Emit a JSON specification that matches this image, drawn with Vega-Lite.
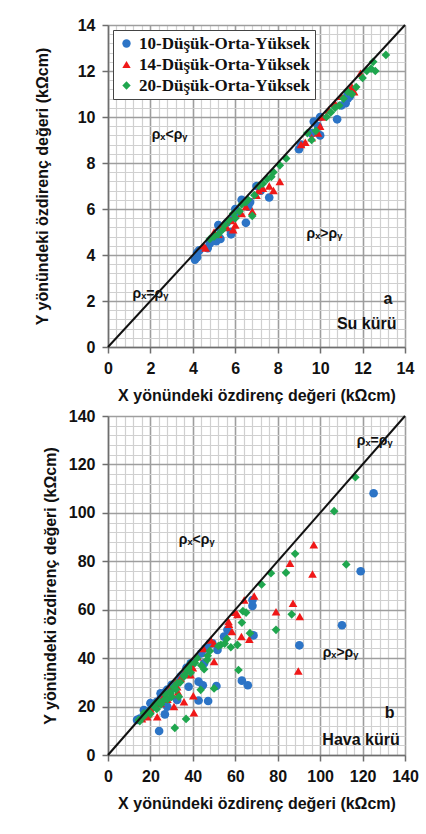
{
"$schema": "https://vega.github.io/schema/vega-lite/v6.json",
"background": "white",
"padding": {"left": 34, "top": 17, "right": 5, "bottom": 5},
"spacing": 5,
"config": {
  "view": {"stroke": null},
  "axis": {"labelFont": "Liberation Sans", "labelFontWeight": "bold", "labelFontSize": 16, "labelColor": "#111", "titleFont": "Liberation Sans", "titleFontWeight": "bold", "titleFontSize": 16, "titleColor": "#111", "domainColor": "#6e6e6e", "domainWidth": 1.5, "tickColor": "#6e6e6e", "tickWidth": 1.5, "tickSize": 6, "labelPadding": 7, "labelOverlap": false, "labelFlush": false, "format": "d"},
  "legend": {"labelFont": "Liberation Serif", "labelFontWeight": "bold", "labelFontSize": 17, "labelColor": "#111", "strokeColor": "#444", "fillColor": "white", "padding": 5, "rowPadding": 3, "symbolSize": 70, "symbolStrokeWidth": 0, "labelLimit": 300}
},
"datasets": {
  "ptsA": [
    {"x":4.1,"y":3.8,"s":"10-Düşük-Orta-Yüksek"},{"x":4.2,"y":3.9,"s":"10-Düşük-Orta-Yüksek"},{"x":4.2,"y":4.1,"s":"10-Düşük-Orta-Yüksek"},{"x":4.3,"y":4.2,"s":"10-Düşük-Orta-Yüksek"},{"x":4.7,"y":4.3,"s":"10-Düşük-Orta-Yüksek"},{"x":4.8,"y":4.5,"s":"10-Düşük-Orta-Yüksek"},{"x":5.1,"y":4.6,"s":"10-Düşük-Orta-Yüksek"},{"x":5.2,"y":4.8,"s":"10-Düşük-Orta-Yüksek"},{"x":5.3,"y":4.7,"s":"10-Düşük-Orta-Yüksek"},{"x":5.2,"y":5.3,"s":"10-Düşük-Orta-Yüksek"},{"x":5.3,"y":5.1,"s":"10-Düşük-Orta-Yüksek"},{"x":5.6,"y":5.4,"s":"10-Düşük-Orta-Yüksek"},{"x":5.8,"y":5.0,"s":"10-Düşük-Orta-Yüksek"},{"x":5.8,"y":4.9,"s":"10-Düşük-Orta-Yüksek"},{"x":5.9,"y":5.6,"s":"10-Düşük-Orta-Yüksek"},{"x":6.0,"y":6.0,"s":"10-Düşük-Orta-Yüksek"},{"x":6.1,"y":5.8,"s":"10-Düşük-Orta-Yüksek"},{"x":6.3,"y":6.4,"s":"10-Düşük-Orta-Yüksek"},{"x":6.5,"y":5.4,"s":"10-Düşük-Orta-Yüksek"},{"x":6.6,"y":6.1,"s":"10-Düşük-Orta-Yüksek"},{"x":6.7,"y":6.3,"s":"10-Düşük-Orta-Yüksek"},{"x":7.0,"y":7.0,"s":"10-Düşük-Orta-Yüksek"},{"x":7.6,"y":6.5,"s":"10-Düşük-Orta-Yüksek"},{"x":7.2,"y":6.8,"s":"10-Düşük-Orta-Yüksek"},{"x":9.0,"y":8.6,"s":"10-Düşük-Orta-Yüksek"},{"x":9.1,"y":8.8,"s":"10-Düşük-Orta-Yüksek"},{"x":9.6,"y":9.3,"s":"10-Düşük-Orta-Yüksek"},{"x":9.7,"y":9.8,"s":"10-Düşük-Orta-Yüksek"},{"x":9.9,"y":9.6,"s":"10-Düşük-Orta-Yüksek"},{"x":10.0,"y":9.2,"s":"10-Düşük-Orta-Yüksek"},{"x":10.8,"y":9.9,"s":"10-Düşük-Orta-Yüksek"},{"x":10.0,"y":10.0,"s":"10-Düşük-Orta-Yüksek"},{"x":11.2,"y":10.6,"s":"10-Düşük-Orta-Yüksek"},{"x":11.3,"y":10.8,"s":"10-Düşük-Orta-Yüksek"},{"x":11.4,"y":10.9,"s":"10-Düşük-Orta-Yüksek"},{"x":11.3,"y":11.0,"s":"10-Düşük-Orta-Yüksek"},{"x":11.0,"y":10.5,"s":"10-Düşük-Orta-Yüksek"},
    {"x":4.5,"y":4.4,"s":"14-Düşük-Orta-Yüksek"},{"x":4.6,"y":4.3,"s":"14-Düşük-Orta-Yüksek"},{"x":5.0,"y":5.0,"s":"14-Düşük-Orta-Yüksek"},{"x":5.2,"y":4.9,"s":"14-Düşük-Orta-Yüksek"},{"x":5.4,"y":5.3,"s":"14-Düşük-Orta-Yüksek"},{"x":5.6,"y":5.2,"s":"14-Düşük-Orta-Yüksek"},{"x":5.8,"y":5.5,"s":"14-Düşük-Orta-Yüksek"},{"x":5.9,"y":5.1,"s":"14-Düşük-Orta-Yüksek"},{"x":6.0,"y":5.3,"s":"14-Düşük-Orta-Yüksek"},{"x":6.3,"y":5.8,"s":"14-Düşük-Orta-Yüksek"},{"x":6.5,"y":6.1,"s":"14-Düşük-Orta-Yüksek"},{"x":6.8,"y":5.9,"s":"14-Düşük-Orta-Yüksek"},{"x":7.0,"y":6.6,"s":"14-Düşük-Orta-Yüksek"},{"x":7.1,"y":6.8,"s":"14-Düşük-Orta-Yüksek"},{"x":7.3,"y":6.9,"s":"14-Düşük-Orta-Yüksek"},{"x":7.6,"y":7.0,"s":"14-Düşük-Orta-Yüksek"},{"x":7.8,"y":6.8,"s":"14-Düşük-Orta-Yüksek"},{"x":8.1,"y":7.2,"s":"14-Düşük-Orta-Yüksek"},{"x":9.1,"y":8.8,"s":"14-Düşük-Orta-Yüksek"},{"x":9.3,"y":8.9,"s":"14-Düşük-Orta-Yüksek"},{"x":9.6,"y":9.1,"s":"14-Düşük-Orta-Yüksek"},{"x":9.9,"y":9.3,"s":"14-Düşük-Orta-Yüksek"},{"x":10.0,"y":9.6,"s":"14-Düşük-Orta-Yüksek"},{"x":10.1,"y":10.0,"s":"14-Düşük-Orta-Yüksek"},{"x":10.4,"y":10.3,"s":"14-Düşük-Orta-Yüksek"},{"x":10.7,"y":10.6,"s":"14-Düşük-Orta-Yüksek"},{"x":11.0,"y":10.9,"s":"14-Düşük-Orta-Yüksek"},{"x":11.4,"y":11.2,"s":"14-Düşük-Orta-Yüksek"},{"x":11.6,"y":11.1,"s":"14-Düşük-Orta-Yüksek"},{"x":11.9,"y":11.9,"s":"14-Düşük-Orta-Yüksek"},{"x":11.5,"y":11.3,"s":"14-Düşük-Orta-Yüksek"},
    {"x":4.8,"y":4.7,"s":"20-Düşük-Orta-Yüksek"},{"x":5.0,"y":4.8,"s":"20-Düşük-Orta-Yüksek"},{"x":5.2,"y":4.9,"s":"20-Düşük-Orta-Yüksek"},{"x":5.4,"y":5.1,"s":"20-Düşük-Orta-Yüksek"},{"x":5.5,"y":5.3,"s":"20-Düşük-Orta-Yüksek"},{"x":5.7,"y":5.5,"s":"20-Düşük-Orta-Yüksek"},{"x":5.9,"y":5.8,"s":"20-Düşük-Orta-Yüksek"},{"x":6.0,"y":5.6,"s":"20-Düşük-Orta-Yüksek"},{"x":6.2,"y":5.9,"s":"20-Düşük-Orta-Yüksek"},{"x":6.3,"y":6.2,"s":"20-Düşük-Orta-Yüksek"},{"x":6.5,"y":6.3,"s":"20-Düşük-Orta-Yüksek"},{"x":6.6,"y":6.4,"s":"20-Düşük-Orta-Yüksek"},{"x":6.8,"y":5.7,"s":"20-Düşük-Orta-Yüksek"},{"x":6.9,"y":6.6,"s":"20-Düşük-Orta-Yüksek"},{"x":7.1,"y":7.0,"s":"20-Düşük-Orta-Yüksek"},{"x":7.3,"y":7.1,"s":"20-Düşük-Orta-Yüksek"},{"x":7.5,"y":7.3,"s":"20-Düşük-Orta-Yüksek"},{"x":7.7,"y":7.4,"s":"20-Düşük-Orta-Yüksek"},{"x":7.8,"y":7.6,"s":"20-Düşük-Orta-Yüksek"},{"x":8.1,"y":7.9,"s":"20-Düşük-Orta-Yüksek"},{"x":8.4,"y":8.2,"s":"20-Düşük-Orta-Yüksek"},{"x":9.4,"y":9.3,"s":"20-Düşük-Orta-Yüksek"},{"x":9.6,"y":9.0,"s":"20-Düşük-Orta-Yüksek"},{"x":9.8,"y":9.4,"s":"20-Düşük-Orta-Yüksek"},{"x":10.3,"y":10.0,"s":"20-Düşük-Orta-Yüksek"},{"x":10.5,"y":10.2,"s":"20-Düşük-Orta-Yüksek"},{"x":10.7,"y":10.4,"s":"20-Düşük-Orta-Yüksek"},{"x":10.9,"y":10.5,"s":"20-Düşük-Orta-Yüksek"},{"x":11.1,"y":10.8,"s":"20-Düşük-Orta-Yüksek"},{"x":11.3,"y":11.1,"s":"20-Düşük-Orta-Yüksek"},{"x":11.5,"y":11.0,"s":"20-Düşük-Orta-Yüksek"},{"x":11.7,"y":11.3,"s":"20-Düşük-Orta-Yüksek"},{"x":12.0,"y":11.7,"s":"20-Düşük-Orta-Yüksek"},{"x":12.2,"y":12.0,"s":"20-Düşük-Orta-Yüksek"},{"x":12.4,"y":12.1,"s":"20-Düşük-Orta-Yüksek"},{"x":12.5,"y":12.4,"s":"20-Düşük-Orta-Yüksek"},{"x":12.6,"y":12.0,"s":"20-Düşük-Orta-Yüksek"},{"x":13.1,"y":12.7,"s":"20-Düşük-Orta-Yüksek"}
  ],
  "ptsB": [
    {"x":125.2,"y":108.1,"s":"10-Düşük-Orta-Yüksek"},{"x":119.1,"y":75.9,"s":"10-Düşük-Orta-Yüksek"},{"x":110.3,"y":53.6,"s":"10-Düşük-Orta-Yüksek"},{"x":90.2,"y":45.3,"s":"10-Düşük-Orta-Yüksek"},{"x":68.1,"y":61.6,"s":"10-Düşük-Orta-Yüksek"},{"x":68.1,"y":64,"s":"10-Düşük-Orta-Yüksek"},{"x":68.6,"y":49.4,"s":"10-Düşük-Orta-Yüksek"},{"x":63.1,"y":30.7,"s":"10-Düşük-Orta-Yüksek"},{"x":65.9,"y":28.8,"s":"10-Düşük-Orta-Yüksek"},{"x":51.1,"y":28.5,"s":"10-Düşük-Orta-Yüksek"},{"x":42.7,"y":22.5,"s":"10-Düşük-Orta-Yüksek"},{"x":47.2,"y":22.3,"s":"10-Düşük-Orta-Yüksek"},{"x":42.7,"y":30.3,"s":"10-Düşük-Orta-Yüksek"},{"x":44.7,"y":28.8,"s":"10-Düşük-Orta-Yüksek"},{"x":24.1,"y":9.9,"s":"10-Düşük-Orta-Yüksek"},{"x":26.8,"y":16.8,"s":"10-Düşük-Orta-Yüksek"},{"x":56.3,"y":51.7,"s":"10-Düşük-Orta-Yüksek"},{"x":54.7,"y":48.9,"s":"10-Düşük-Orta-Yüksek"},{"x":51.6,"y":43.4,"s":"10-Düşük-Orta-Yüksek"},{"x":49.2,"y":46.1,"s":"10-Düşük-Orta-Yüksek"},{"x":45.3,"y":37.9,"s":"10-Düşük-Orta-Yüksek"},{"x":38.0,"y":28.2,"s":"10-Düşük-Orta-Yüksek"},{"x":32.6,"y":22.7,"s":"10-Düşük-Orta-Yüksek"},{"x":29.5,"y":26.9,"s":"10-Düşük-Orta-Yüksek"},{"x":20.0,"y":21.4,"s":"10-Düşük-Orta-Yüksek"},{"x":16.9,"y":18.6,"s":"10-Düşük-Orta-Yüksek"},{"x":13.7,"y":14.5,"s":"10-Düşük-Orta-Yüksek"},{"x":24.8,"y":25.5,"s":"10-Düşük-Orta-Yüksek"},{"x":27.9,"y":20.0,"s":"10-Düşük-Orta-Yüksek"},{"x":34.2,"y":32.4,"s":"10-Düşük-Orta-Yüksek"},{"x":39.0,"y":37.9,"s":"10-Düşük-Orta-Yüksek"},{"x":15,"y":15,"s":"10-Düşük-Orta-Yüksek"},{"x":17,"y":16,"s":"10-Düşük-Orta-Yüksek"},{"x":18,"y":17.5,"s":"10-Düşük-Orta-Yüksek"},{"x":19,"y":18,"s":"10-Düşük-Orta-Yüksek"},{"x":21,"y":20,"s":"10-Düşük-Orta-Yüksek"},{"x":22,"y":21,"s":"10-Düşük-Orta-Yüksek"},{"x":23,"y":22,"s":"10-Düşük-Orta-Yüksek"},{"x":25,"y":24,"s":"10-Düşük-Orta-Yüksek"},{"x":27,"y":26,"s":"10-Düşük-Orta-Yüksek"},{"x":28,"y":27,"s":"10-Düşük-Orta-Yüksek"},{"x":30,"y":29,"s":"10-Düşük-Orta-Yüksek"},{"x":31,"y":28,"s":"10-Düşük-Orta-Yüksek"},{"x":33,"y":30,"s":"10-Düşük-Orta-Yüksek"},{"x":35,"y":33,"s":"10-Düşük-Orta-Yüksek"},{"x":37,"y":36,"s":"10-Düşük-Orta-Yüksek"},{"x":40,"y":38,"s":"10-Düşük-Orta-Yüksek"},{"x":44,"y":42,"s":"10-Düşük-Orta-Yüksek"},{"x":46,"y":44,"s":"10-Düşük-Orta-Yüksek"},{"x":48,"y":46,"s":"10-Düşük-Orta-Yüksek"},
    {"x":97.0,"y":86.8,"s":"14-Düşük-Orta-Yüksek"},{"x":96.4,"y":74.7,"s":"14-Düşük-Orta-Yüksek"},{"x":85.8,"y":79.2,"s":"14-Düşük-Orta-Yüksek"},{"x":87.2,"y":62.7,"s":"14-Düşük-Orta-Yüksek"},{"x":90.4,"y":57.2,"s":"14-Düşük-Orta-Yüksek"},{"x":79.2,"y":59.2,"s":"14-Düşük-Orta-Yüksek"},{"x":89.7,"y":34.7,"s":"14-Düşük-Orta-Yüksek"},{"x":64.2,"y":64.0,"s":"14-Düşük-Orta-Yüksek"},{"x":68.9,"y":65.7,"s":"14-Düşük-Orta-Yüksek"},{"x":62.9,"y":48.9,"s":"14-Düşük-Orta-Yüksek"},{"x":66.6,"y":47.8,"s":"14-Düşük-Orta-Yüksek"},{"x":56.8,"y":55.1,"s":"14-Düşük-Orta-Yüksek"},{"x":58.4,"y":51.0,"s":"14-Düşük-Orta-Yüksek"},{"x":50.0,"y":38.6,"s":"14-Düşük-Orta-Yüksek"},{"x":42.1,"y":40.6,"s":"14-Düşük-Orta-Yüksek"},{"x":40.2,"y":24.5,"s":"14-Düşük-Orta-Yüksek"},{"x":40.5,"y":17.5,"s":"14-Düşük-Orta-Yüksek"},{"x":35.8,"y":22.0,"s":"14-Düşük-Orta-Yüksek"},{"x":31.1,"y":20.0,"s":"14-Düşük-Orta-Yüksek"},{"x":38.9,"y":33.1,"s":"14-Düşük-Orta-Yüksek"},{"x":34.2,"y":31.7,"s":"14-Düşük-Orta-Yüksek"},{"x":23.2,"y":15.8,"s":"14-Düşük-Orta-Yüksek"},{"x":18.5,"y":15.8,"s":"14-Düşük-Orta-Yüksek"},{"x":27.9,"y":24.1,"s":"14-Düşük-Orta-Yüksek"},{"x":24.8,"y":21.3,"s":"14-Düşük-Orta-Yüksek"},{"x":32.6,"y":28.2,"s":"14-Düşük-Orta-Yüksek"},{"x":48.4,"y":47.5,"s":"14-Düşük-Orta-Yüksek"},{"x":16,"y":15,"s":"14-Düşük-Orta-Yüksek"},{"x":19,"y":17,"s":"14-Düşük-Orta-Yüksek"},{"x":20,"y":19,"s":"14-Düşük-Orta-Yüksek"},{"x":22,"y":20,"s":"14-Düşük-Orta-Yüksek"},{"x":24,"y":22,"s":"14-Düşük-Orta-Yüksek"},{"x":26,"y":24,"s":"14-Düşük-Orta-Yüksek"},{"x":28,"y":23,"s":"14-Düşük-Orta-Yüksek"},{"x":29,"y":27,"s":"14-Düşük-Orta-Yüksek"},{"x":30,"y":25,"s":"14-Düşük-Orta-Yüksek"},{"x":32,"y":30,"s":"14-Düşük-Orta-Yüksek"},{"x":33,"y":26,"s":"14-Düşük-Orta-Yüksek"},{"x":36,"y":34,"s":"14-Düşük-Orta-Yüksek"},{"x":38,"y":35,"s":"14-Düşük-Orta-Yüksek"},{"x":40,"y":36,"s":"14-Düşük-Orta-Yüksek"},{"x":45,"y":44,"s":"14-Düşük-Orta-Yüksek"},{"x":50,"y":46,"s":"14-Düşük-Orta-Yüksek"},{"x":57,"y":54,"s":"14-Düşük-Orta-Yüksek"},{"x":60,"y":59,"s":"14-Düşük-Orta-Yüksek"},{"x":61,"y":58,"s":"14-Düşük-Orta-Yüksek"},
    {"x":116.6,"y":114.7,"s":"20-Düşük-Orta-Yüksek"},{"x":106.6,"y":100.7,"s":"20-Düşük-Orta-Yüksek"},{"x":112.3,"y":78.7,"s":"20-Düşük-Orta-Yüksek"},{"x":88.2,"y":83.1,"s":"20-Düşük-Orta-Yüksek"},{"x":83.9,"y":75.3,"s":"20-Düşük-Orta-Yüksek"},{"x":76.8,"y":75.1,"s":"20-Düşük-Orta-Yüksek"},{"x":72.4,"y":70.4,"s":"20-Düşük-Orta-Yüksek"},{"x":63.6,"y":59.4,"s":"20-Düşük-Orta-Yüksek"},{"x":65.1,"y":58.8,"s":"20-Düşük-Orta-Yüksek"},{"x":63.1,"y":54.7,"s":"20-Düşük-Orta-Yüksek"},{"x":86.6,"y":58.1,"s":"20-Düşük-Orta-Yüksek"},{"x":79.2,"y":51.7,"s":"20-Düşük-Orta-Yüksek"},{"x":66.9,"y":50.3,"s":"20-Düşük-Orta-Yüksek"},{"x":61.5,"y":35.1,"s":"20-Düşük-Orta-Yüksek"},{"x":50.0,"y":27.5,"s":"20-Düşük-Orta-Yüksek"},{"x":43.7,"y":26.9,"s":"20-Düşük-Orta-Yüksek"},{"x":36.8,"y":14.9,"s":"20-Düşük-Orta-Yüksek"},{"x":31.5,"y":11.2,"s":"20-Düşük-Orta-Yüksek"},{"x":45.3,"y":35.4,"s":"20-Düşük-Orta-Yüksek"},{"x":46.8,"y":39.3,"s":"20-Düşük-Orta-Yüksek"},{"x":53.2,"y":45.5,"s":"20-Düşük-Orta-Yüksek"},{"x":57.9,"y":44.5,"s":"20-Düşük-Orta-Yüksek"},{"x":61.0,"y":45.5,"s":"20-Düşük-Orta-Yüksek"},{"x":39.0,"y":37.9,"s":"20-Düşük-Orta-Yüksek"},{"x":37.4,"y":35.1,"s":"20-Düşük-Orta-Yüksek"},{"x":32.6,"y":29.6,"s":"20-Düşük-Orta-Yüksek"},{"x":29.5,"y":25.5,"s":"20-Düşük-Orta-Yüksek"},{"x":26.3,"y":22.7,"s":"20-Düşük-Orta-Yüksek"},{"x":21.6,"y":20.0,"s":"20-Düşük-Orta-Yüksek"},{"x":16.9,"y":17.2,"s":"20-Düşük-Orta-Yüksek"},{"x":14.5,"y":14.5,"s":"20-Düşük-Orta-Yüksek"},{"x":33.4,"y":24.1,"s":"20-Düşük-Orta-Yüksek"},{"x":35.8,"y":32.4,"s":"20-Düşük-Orta-Yüksek"},{"x":15,"y":14,"s":"20-Düşük-Orta-Yüksek"},{"x":17,"y":16,"s":"20-Düşük-Orta-Yüksek"},{"x":19,"y":18,"s":"20-Düşük-Orta-Yüksek"},{"x":20,"y":17,"s":"20-Düşük-Orta-Yüksek"},{"x":22,"y":21,"s":"20-Düşük-Orta-Yüksek"},{"x":23,"y":19,"s":"20-Düşük-Orta-Yüksek"},{"x":24,"y":22,"s":"20-Düşük-Orta-Yüksek"},{"x":25,"y":21,"s":"20-Düşük-Orta-Yüksek"},{"x":27,"y":25,"s":"20-Düşük-Orta-Yüksek"},{"x":28,"y":23,"s":"20-Düşük-Orta-Yüksek"},{"x":29,"y":26,"s":"20-Düşük-Orta-Yüksek"},{"x":30,"y":24,"s":"20-Düşük-Orta-Yüksek"},{"x":31,"y":28,"s":"20-Düşük-Orta-Yüksek"},{"x":32,"y":27,"s":"20-Düşük-Orta-Yüksek"},{"x":34,"y":30,"s":"20-Düşük-Orta-Yüksek"},{"x":36,"y":33,"s":"20-Düşük-Orta-Yüksek"},{"x":38,"y":36,"s":"20-Düşük-Orta-Yüksek"},{"x":39,"y":34,"s":"20-Düşük-Orta-Yüksek"},{"x":41,"y":38,"s":"20-Düşük-Orta-Yüksek"},{"x":42,"y":40,"s":"20-Düşük-Orta-Yüksek"},{"x":44,"y":37,"s":"20-Düşük-Orta-Yüksek"},{"x":47,"y":41,"s":"20-Düşük-Orta-Yüksek"},{"x":48,"y":43,"s":"20-Düşük-Orta-Yüksek"},{"x":52,"y":45,"s":"20-Düşük-Orta-Yüksek"},{"x":55,"y":46,"s":"20-Düşük-Orta-Yüksek"},{"x":56,"y":48,"s":"20-Düşük-Orta-Yüksek"}
  ]
},
"vconcat": [
  {
    "width": 297, "height": 322,
    "encoding": {
      "x": {"field": "x", "type": "quantitative", "scale": {"domain": [0, 14], "nice": false},
        "axis": {"title": "X yönündeki özdirenç değeri (kΩcm)", "titlePadding": 11,
          "values": [0,0.4,0.8,1.2,1.6,2,2.4,2.8,3.2,3.6,4,4.4,4.8,5.2,5.6,6,6.4,6.8,7.2,7.6,8,8.4,8.8,9.2,9.6,10,10.4,10.8,11.2,11.6,12,12.4,12.8,13.2,13.6,14],
          "labelExpr": "abs(datum.value/2 - round(datum.value/2)) < 0.001 ? datum.label : ''",
          "gridColor": {"condition": {"test": "abs(datum.value/2 - round(datum.value/2)) < 0.001", "value": "#9e9e9e"}, "value": "#d0d0d0"},
          "gridWidth": {"condition": {"test": "abs(datum.value/2 - round(datum.value/2)) < 0.001", "value": 1.6}, "value": 1.2},
          "tickOpacity": {"condition": {"test": "abs(datum.value/2 - round(datum.value/2)) < 0.001", "value": 1}, "value": 0}}},
      "y": {"field": "y", "type": "quantitative", "scale": {"domain": [0, 14], "nice": false},
        "axis": {"title": "Y yönündeki özdirenç değeri (kΩcm)", "titlePadding": 27,
          "values": [0,0.4,0.8,1.2,1.6,2,2.4,2.8,3.2,3.6,4,4.4,4.8,5.2,5.6,6,6.4,6.8,7.2,7.6,8,8.4,8.8,9.2,9.6,10,10.4,10.8,11.2,11.6,12,12.4,12.8,13.2,13.6,14],
          "labelExpr": "abs(datum.value/2 - round(datum.value/2)) < 0.001 ? datum.label : ''",
          "gridColor": {"condition": {"test": "abs(datum.value/2 - round(datum.value/2)) < 0.001", "value": "#9e9e9e"}, "value": "#d0d0d0"},
          "gridWidth": {"condition": {"test": "abs(datum.value/2 - round(datum.value/2)) < 0.001", "value": 1.6}, "value": 1.2},
          "tickOpacity": {"condition": {"test": "abs(datum.value/2 - round(datum.value/2)) < 0.001", "value": 1}, "value": 0}}}
    },
    "layer": [
      {
        "data": {"name": "ptsA"},
        "mark": {"type": "point", "filled": true, "opacity": 1, "size": 75},
        "encoding": {
          "color": {"field": "s", "type": "nominal", "scale": {"domain": ["10-Düşük-Orta-Yüksek", "14-Düşük-Orta-Yüksek", "20-Düşük-Orta-Yüksek"], "range": ["#2c74c6", "#f01818", "#1fa64e"]},
            "legend": {"title": null, "orient": "top-left", "offset": 5}},
          "shape": {"field": "s", "type": "nominal", "scale": {"domain": ["10-Düşük-Orta-Yüksek", "14-Düşük-Orta-Yüksek", "20-Düşük-Orta-Yüksek"], "range": ["circle", "triangle-up", "diamond"]}, "legend": {"title": null, "orient": "top-left", "offset": 5}}
        }
      },
      {
        "data": {"values": [{"x": 0, "y": 0}, {"x": 14, "y": 14}]},
        "mark": {"type": "line", "color": "#111", "strokeWidth": 2},
        "encoding": {}
      },
      {
        "data": {"values": [{"x": 2.9, "y": 9.2, "t": "ρₓ<ρᵧ"}, {"x": 10.2, "y": 4.9, "t": "ρₓ>ρᵧ"}, {"x": 2.0, "y": 2.3, "t": "ρₓ=ρᵧ"}]},
        "mark": {"type": "text", "font": "Liberation Sans", "fontWeight": "bold", "fontSize": 14, "color": "#111"},
        "encoding": {"text": {"field": "t"}}
      },
      {
        "data": {"values": [{"x": 13.2, "y": 2.1, "t": "a"}]},
        "mark": {"type": "text", "font": "Liberation Sans", "fontWeight": "bold", "fontSize": 16, "color": "#111"},
        "encoding": {"text": {"field": "t"}}
      },
      {
        "data": {"values": [{"x": 13.6, "y": 1.0, "t": "Su kürü"}]},
        "mark": {"type": "text", "align": "right", "font": "Liberation Sans", "fontWeight": "bold", "fontSize": 16, "color": "#111"},
        "encoding": {"text": {"field": "t"}}
      }
    ]
  },
  {
    "width": 297, "height": 339,
    "encoding": {
      "x": {"field": "x", "type": "quantitative", "scale": {"domain": [0, 140], "nice": false},
        "axis": {"title": "X yönündeki özdirenç değeri (kΩcm)", "titlePadding": 11,
          "values": [0,4,8,12,16,20,24,28,32,36,40,44,48,52,56,60,64,68,72,76,80,84,88,92,96,100,104,108,112,116,120,124,128,132,136,140],
          "labelExpr": "datum.value % 20 === 0 ? datum.label : ''",
          "gridColor": {"condition": {"test": "datum.value % 20 === 0", "value": "#9e9e9e"}, "value": "#d0d0d0"},
          "gridWidth": {"condition": {"test": "datum.value % 20 === 0", "value": 1.6}, "value": 1.2},
          "tickOpacity": {"condition": {"test": "datum.value % 20 === 0", "value": 1}, "value": 0}}},
      "y": {"field": "y", "type": "quantitative", "scale": {"domain": [0, 140], "nice": false},
        "axis": {"title": "Y yönündeki özdirenç değeri (kΩcm)", "titlePadding": 10,
          "values": [0,4,8,12,16,20,24,28,32,36,40,44,48,52,56,60,64,68,72,76,80,84,88,92,96,100,104,108,112,116,120,124,128,132,136,140],
          "labelExpr": "datum.value % 20 === 0 ? datum.label : ''",
          "gridColor": {"condition": {"test": "datum.value % 20 === 0", "value": "#9e9e9e"}, "value": "#d0d0d0"},
          "gridWidth": {"condition": {"test": "datum.value % 20 === 0", "value": 1.6}, "value": 1.2},
          "tickOpacity": {"condition": {"test": "datum.value % 20 === 0", "value": 1}, "value": 0}}}
    },
    "layer": [
      {
        "data": {"name": "ptsB"},
        "mark": {"type": "point", "filled": true, "opacity": 1, "size": 75},
        "encoding": {
          "color": {"field": "s", "type": "nominal", "scale": {"domain": ["10-Düşük-Orta-Yüksek", "14-Düşük-Orta-Yüksek", "20-Düşük-Orta-Yüksek"], "range": ["#2c74c6", "#f01818", "#1fa64e"]},
            "legend": {"title": null, "orient": "top-left", "offset": 3}},
          "shape": {"field": "s", "type": "nominal", "scale": {"domain": ["10-Düşük-Orta-Yüksek", "14-Düşük-Orta-Yüksek", "20-Düşük-Orta-Yüksek"], "range": ["circle", "triangle-up", "diamond"]}, "legend": {"title": null, "orient": "top-left", "offset": 3}}
        }
      },
      {
        "data": {"values": [{"x": 0, "y": 0}, {"x": 140, "y": 140}]},
        "mark": {"type": "line", "color": "#111", "strokeWidth": 2},
        "encoding": {}
      },
      {
        "data": {"values": [{"x": 125.7, "y": 129.5, "t": "ρₓ=ρᵧ"}, {"x": 41.8, "y": 88.8, "t": "ρₓ<ρᵧ"}, {"x": 109.6, "y": 42, "t": "ρₓ>ρᵧ"}]},
        "mark": {"type": "text", "font": "Liberation Sans", "fontWeight": "bold", "fontSize": 14, "color": "#111"},
        "encoding": {"text": {"field": "t"}}
      },
      {
        "data": {"values": [{"x": 132.8, "y": 17.2, "t": "b"}]},
        "mark": {"type": "text", "font": "Liberation Sans", "fontWeight": "bold", "fontSize": 16, "color": "#111"},
        "encoding": {"text": {"field": "t"}}
      },
      {
        "data": {"values": [{"x": 137.5, "y": 6.2, "t": "Hava kürü"}]},
        "mark": {"type": "text", "align": "right", "font": "Liberation Sans", "fontWeight": "bold", "fontSize": 16, "color": "#111"},
        "encoding": {"text": {"field": "t"}}
      }
    ]
  }
]
}
